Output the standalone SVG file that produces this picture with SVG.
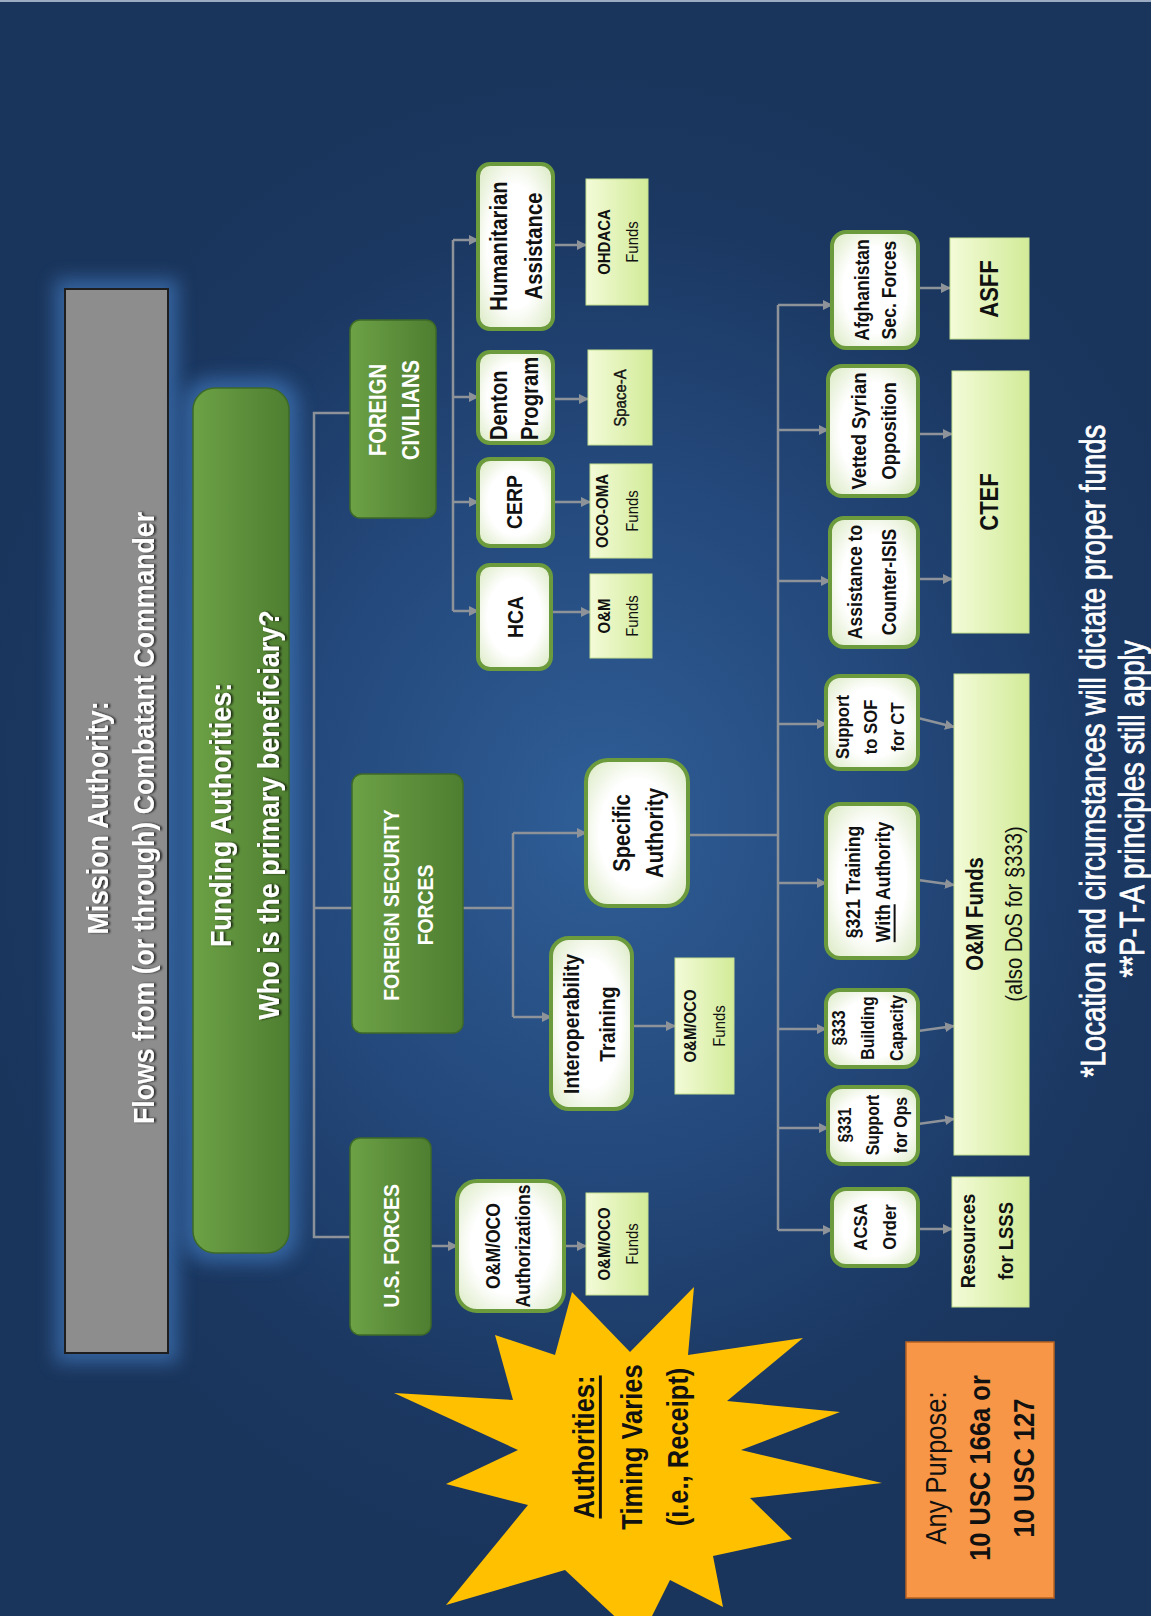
<svg xmlns="http://www.w3.org/2000/svg" width="1151" height="1616" viewBox="0 0 1151 1616">
<defs>
<radialGradient id="bg" gradientUnits="userSpaceOnUse" cx="600" cy="820" r="720" gradientTransform="translate(600 820) scale(0.9 1.05) translate(-600 -820)">
<stop offset="0" stop-color="#2f5e97"/>
<stop offset="0.45" stop-color="#24497c"/>
<stop offset="0.8" stop-color="#1b3862"/>
<stop offset="1" stop-color="#1a355c"/>
</radialGradient>
<linearGradient id="gg" x1="0" y1="0" x2="1" y2="0">
<stop offset="0" stop-color="#6da246"/><stop offset="0.5" stop-color="#5d8f3b"/><stop offset="1" stop-color="#4e7e30"/>
</linearGradient>
<radialGradient id="wg" cx="0.5" cy="0.5" r="0.62">
<stop offset="0.6" stop-color="#ffffff"/><stop offset="1" stop-color="#e2eecf"/>
</radialGradient>
<linearGradient id="fg" x1="0" y1="0" x2="1" y2="0">
<stop offset="0" stop-color="#f3fbd8"/><stop offset="1" stop-color="#d2eb98"/>
</linearGradient>
<filter id="blur" x="-30%" y="-10%" width="160%" height="120%"><feGaussianBlur stdDeviation="9"/></filter>
<filter id="ts" x="-10%" y="-40%" width="120%" height="180%"><feDropShadow dx="0" dy="2" stdDeviation="1.2" flood-color="#000" flood-opacity="0.75"/></filter>
<marker id="ah" viewBox="0 0 10 10" refX="9" refY="5" markerWidth="4" markerHeight="4" orient="auto"><path d="M0,0 L10,5 L0,10 z" fill="#8e9399"/></marker>
</defs>
<style>
.t{font-family:"Liberation Sans",Arial,sans-serif;text-anchor:middle;dominant-baseline:central}
.b{font-weight:bold}
.blk{fill:#111}
.wht{fill:#fff}
.nw{fill:url(#wg);stroke:#6b9b3c;stroke-width:4}
.fund{fill:url(#fg);stroke:#c5df8f;stroke-width:1}
.cat{fill:url(#gg);stroke:#3e6a27;stroke-width:1.5}
.c{fill:none;stroke:#8e9399;stroke-width:2.5}
.a{marker-end:url(#ah)}
.fn{stroke:#fff;stroke-width:0.8}
</style>

<rect x="0" y="0" width="1151" height="1616" fill="url(#bg)"/>
<rect x="0" y="0" width="1151" height="2" fill="#9aabc2"/>

<g id="connectors">
<path class="c" d="M350,413 H314 V1237 H350"/>
<path class="c" d="M314,908 H352"/>
<path class="c" d="M453,240 V611"/>
<path class="c a" d="M453,240 H478"/>
<path class="c a" d="M453,397 H478"/>
<path class="c a" d="M453,502 H478"/>
<path class="c a" d="M453,611 H478"/>
<path class="c a" d="M553,245 H586"/>
<path class="c a" d="M553,399 H588"/>
<path class="c a" d="M553,502 H590"/>
<path class="c a" d="M551,612 H590"/>
<path class="c" d="M463,908 H513"/>
<path class="c" d="M513,833 V1017"/>
<path class="c a" d="M513,833 H586"/>
<path class="c a" d="M513,1017 H551"/>
<path class="c a" d="M632,1026 H675"/>
<path class="c a" d="M431,1246 H457"/>
<path class="c a" d="M564,1246 H586"/>
<path class="c" d="M688,835 H778"/>
<path class="c" d="M778,305 V1230"/>
<path class="c a" d="M778,305 H832"/>
<path class="c a" d="M778,430 H828"/>
<path class="c a" d="M778,581 H830"/>
<path class="c a" d="M778,724 H826"/>
<path class="c a" d="M778,883 H826"/>
<path class="c a" d="M778,1029 H826"/>
<path class="c a" d="M778,1128 H828"/>
<path class="c a" d="M778,1230 H832"/>
<path class="c a" d="M918,288 H950"/>
<path class="c a" d="M918,434 H952"/>
<path class="c a" d="M918,579 H952"/>
<path class="c a" d="M918,718 L954,727"/>
<path class="c a" d="M918,880 L954,885"/>
<path class="c a" d="M918,1031 L954,1026"/>
<path class="c a" d="M918,1124 L954,1119"/>
<path class="c a" d="M918,1229 H952"/>
</g>

<g id="mission">
<rect x="55" y="279" width="123" height="1084" fill="#3b6eae" opacity="0.8" filter="url(#blur)"/>
<rect x="65" y="289" width="103" height="1064" fill="#8d8d8d" stroke="#1e1e1e" stroke-width="2"/>
<text class="t b wht" font-size="30" filter="url(#ts)" transform="translate(120,818) rotate(-90) scale(0.89,1)"><tspan x="0" y="-23">Mission Authority:</tspan><tspan x="0" y="23">Flows from (or through) Combatant Commander</tspan></text>
</g>

<g id="funding">
<rect x="183" y="378" width="116" height="885" rx="28" fill="#3b6eae" opacity="0.8" filter="url(#blur)"/>
<rect x="193" y="388" width="96" height="865" rx="22" fill="url(#gg)" stroke="#3e6a27" stroke-width="1.5"/>
<text class="t b wht" font-size="30" filter="url(#ts)" transform="translate(244,815) rotate(-90) scale(0.9,1)"><tspan x="0" y="-24">Funding Authorities:</tspan><tspan x="0" y="24">Who is the primary beneficiary?</tspan></text>
</g>

<g id="foreign-civilians">
<rect class="cat" x="350" y="320" width="86" height="198" rx="10"/>
<text class="t b wht" font-size="23" transform="translate(394,410) rotate(-90) scale(0.88,1)"><tspan x="0" y="-17">FOREIGN</tspan><tspan x="0" y="17">CIVILIANS</tspan></text>
</g>
<g id="foreign-security-forces">
<rect class="cat" x="352" y="774" width="111" height="259" rx="10"/>
<text class="t b wht" font-size="22" transform="translate(407.5,905) rotate(-90) scale(0.88,1)"><tspan x="0" y="-17.5">FOREIGN SECURITY</tspan><tspan x="0" y="17.5">FORCES</tspan></text>
</g>
<g id="us-forces">
<rect class="cat" x="350" y="1138" width="81" height="197" rx="10"/>
<text class="t b wht" font-size="22" transform="translate(390.5,1246) rotate(-90) scale(0.88,1)"><tspan x="0" y="0">U.S. FORCES</tspan></text>
</g>

<g id="humanitarian">
<rect class="nw" x="478" y="164" width="75" height="165" rx="12"/>
<text class="t b blk" font-size="23" transform="translate(516,246) rotate(-90) scale(0.88,1)"><tspan x="0" y="-17.5">Humanitarian</tspan><tspan x="0" y="17.5">Assistance</tspan></text>
</g>
<g id="denton">
<rect class="nw" x="478" y="352" width="75" height="91" rx="12"/>
<text class="t b blk" font-size="23" style="text-anchor:start" transform="translate(514.5,440) rotate(-90) scale(0.88,1)"><tspan x="0" y="-15.5">Denton</tspan><tspan x="0" y="15.5">Program</tspan></text>
</g>
<g id="cerp">
<rect class="nw" x="478" y="459" width="75" height="87" rx="12"/>
<text class="t b blk" font-size="22" transform="translate(514,502) rotate(-90) scale(0.88,1)">CERP</text>
</g>
<g id="hca">
<rect class="nw" x="478" y="565" width="73" height="104" rx="12"/>
<text class="t b blk" font-size="22" transform="translate(515,617) rotate(-90) scale(0.88,1)">HCA</text>
</g>

<g id="ohdaca">
<rect class="fund" x="586" y="179" width="62" height="126"/>
<text class="t blk" font-size="17" transform="translate(618,242) rotate(-90) scale(0.88,1)"><tspan class="b" x="0" y="-14">OHDACA</tspan><tspan x="0" y="14">Funds</tspan></text>
</g>
<g id="space-a">
<rect class="fund" x="588" y="350" width="64" height="95"/>
<text class="t blk" font-size="17" stroke="#111" stroke-width="0.4" transform="translate(620,398) rotate(-90) scale(0.88,1)">Space-A</text>
</g>
<g id="oco-oma">
<rect class="fund" x="590" y="464" width="62" height="94"/>
<text class="t blk" font-size="17" transform="translate(617,511) rotate(-90) scale(0.88,1)"><tspan class="b" x="0" y="-15">OCO-OMA</tspan><tspan x="0" y="15">Funds</tspan></text>
</g>
<g id="om-hca">
<rect class="fund" x="590" y="574" width="62" height="84"/>
<text class="t blk" font-size="17" transform="translate(618,616) rotate(-90) scale(0.88,1)"><tspan class="b" x="0" y="-14">O&amp;M</tspan><tspan x="0" y="14">Funds</tspan></text>
</g>

<g id="interop">
<rect class="nw" x="551" y="938" width="81" height="171" rx="18"/>
<text class="t b blk" font-size="22" transform="translate(589,1024) rotate(-90) scale(0.88,1)"><tspan x="0" y="-18">Interoperability</tspan><tspan x="0" y="18">Training</tspan></text>
</g>
<g id="specific">
<rect class="nw" x="586" y="760" width="102" height="146" rx="22"/>
<text class="t b blk" font-size="23" transform="translate(638,833) rotate(-90) scale(0.88,1)"><tspan x="0" y="-17">Specific</tspan><tspan x="0" y="17">Authority</tspan></text>
</g>
<g id="om-oco-interop">
<rect class="fund" x="675" y="958" width="59" height="136"/>
<text class="t blk" font-size="17" transform="translate(704.5,1026) rotate(-90) scale(0.88,1)"><tspan class="b" x="0" y="-14.5">O&amp;M/OCO</tspan><tspan x="0" y="14.5">Funds</tspan></text>
</g>

<g id="authorizations">
<rect class="nw" x="457" y="1181" width="107" height="130" rx="20"/>
<text class="t b blk" font-size="20" transform="translate(508,1246) rotate(-90) scale(0.88,1)"><tspan x="0" y="-15">O&amp;M/OCO</tspan><tspan x="0" y="15">Authorizations</tspan></text>
</g>
<g id="om-oco-us">
<rect class="fund" x="586" y="1193" width="62" height="102"/>
<text class="t blk" font-size="17" transform="translate(618,1244) rotate(-90) scale(0.88,1)"><tspan class="b" x="0" y="-14">O&amp;M/OCO</tspan><tspan x="0" y="14">Funds</tspan></text>
</g>

<g id="afghanistan">
<rect class="nw" x="832" y="232" width="86" height="116" rx="14"/>
<text class="t b blk" font-size="20" transform="translate(875,290) rotate(-90) scale(0.88,1)"><tspan x="0" y="-13.5">Afghanistan</tspan><tspan x="0" y="13.5">Sec. Forces</tspan></text>
</g>
<g id="vetted">
<rect class="nw" x="828" y="366" width="90" height="130" rx="14"/>
<text class="t b blk" font-size="21" transform="translate(874,431) rotate(-90) scale(0.88,1)"><tspan x="0" y="-15">Vetted Syrian</tspan><tspan x="0" y="15">Opposition</tspan></text>
</g>
<g id="counter-isis">
<rect class="nw" x="830" y="518" width="88" height="129" rx="14"/>
<text class="t b blk" font-size="20" transform="translate(872,582) rotate(-90) scale(0.88,1)"><tspan x="0" y="-17">Assistance to</tspan><tspan x="0" y="17">Counter-ISIS</tspan></text>
</g>
<g id="sof">
<rect class="nw" x="826" y="676" width="92" height="93" rx="14"/>
<text class="t b blk" font-size="19" transform="translate(870.5,727) rotate(-90) scale(0.88,1)"><tspan x="0" y="-27.5">Support</tspan><tspan x="0" y="0">to SOF</tspan><tspan x="0" y="27.5">for CT</tspan></text>
</g>
<g id="s321">
<rect class="nw" x="826" y="804" width="92" height="154" rx="14"/>
<text class="t b blk" font-size="20" transform="translate(868,882) rotate(-90) scale(0.88,1)"><tspan x="0" y="-15">§321 Training</tspan><tspan x="0" y="15"><tspan text-decoration="underline">With</tspan> Authority</tspan></text>
</g>
<g id="s333">
<rect class="nw" x="826" y="990" width="92" height="77" rx="14"/>
<text class="t b blk" font-size="18" transform="translate(868,1028) rotate(-90) scale(0.88,1)"><tspan x="0" y="-29">§333</tspan><tspan x="0" y="0">Building</tspan><tspan x="0" y="29">Capacity</tspan></text>
</g>
<g id="s331">
<rect class="nw" x="828" y="1087" width="90" height="77" rx="14"/>
<text class="t b blk" font-size="18" transform="translate(873,1125) rotate(-90) scale(0.88,1)"><tspan x="0" y="-28">§331</tspan><tspan x="0" y="0">Support</tspan><tspan x="0" y="28">for Ops</tspan></text>
</g>
<g id="acsa">
<rect class="nw" x="832" y="1189" width="86" height="77" rx="14"/>
<text class="t b blk" font-size="19" transform="translate(875,1227) rotate(-90) scale(0.88,1)"><tspan x="0" y="-14.5">ACSA</tspan><tspan x="0" y="14.5">Order</tspan></text>
</g>

<g id="asff">
<rect class="fund" x="950" y="238" width="79" height="101"/>
<text class="t b blk" font-size="25" transform="translate(990,289) rotate(-90) scale(0.88,1)">ASFF</text>
</g>
<g id="ctef">
<rect class="fund" x="952" y="371" width="77" height="262"/>
<text class="t b blk" font-size="25" transform="translate(990,502) rotate(-90) scale(0.88,1)">CTEF</text>
</g>
<g id="om-funds">
<rect class="fund" x="954" y="674" width="75" height="481"/>
<text class="t blk" font-size="23" transform="translate(994,914) rotate(-90) scale(0.88,1)"><tspan class="b" x="0" y="-20">O&amp;M Funds</tspan><tspan x="0" y="20">(also DoS for §333)</tspan></text>
</g>
<g id="resources">
<rect class="fund" x="952" y="1177" width="77" height="130"/>
<text class="t b blk" font-size="21" transform="translate(987,1241) rotate(-90) scale(0.88,1)"><tspan x="0" y="-19">Resources</tspan><tspan x="0" y="19">for LSSS</tspan></text>
</g>

<g id="any-purpose">
<rect x="906" y="1342" width="148" height="256" fill="#f79646" stroke="#b8621f" stroke-width="1.5"/>
<text class="t blk" font-size="29" transform="translate(979,1468) rotate(-90) scale(0.88,1)"><tspan x="0" y="-44">Any Purpose:</tspan><tspan class="b" x="0" y="0">10 USC 166a or</tspan><tspan class="b" x="0" y="44">10 USC 127</tspan></text>
</g>

<g id="authorities-star">
<polygon points="572,1292 630,1352 694,1287 688,1355 803,1338 727,1401 840,1412 741,1450 882,1483 750,1498 792,1539 713,1556 723,1607 670,1580 640,1640 565,1570 446,1605 528,1505 446,1484 518,1450 394,1393 513,1400 495,1335 555,1355" fill="#ffc000"/>
<text class="t b blk" font-size="29" transform="translate(631,1447) rotate(-90) scale(0.88,1)"><tspan x="0" y="-48" text-decoration="underline">Authorities:</tspan><tspan x="0" y="0">Timing Varies</tspan><tspan x="0" y="46">(i.e., Receipt)</tspan></text>
</g>

<g id="footnotes">
<text class="t wht fn" font-size="36" transform="translate(1093,751) rotate(-90) scale(0.77,1)">*Location and circumstances will dictate proper funds</text>
<text class="t wht fn" font-size="36" transform="translate(1132,809) rotate(-90) scale(0.77,1)">**P-T-A principles still apply</text>
</g>
</svg>
